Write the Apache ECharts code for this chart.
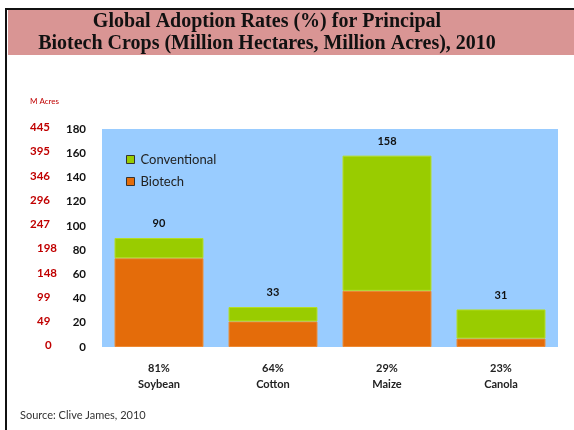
<!DOCTYPE html>
<html>
<head>
<meta charset="utf-8">
<script src="https://cdn.jsdelivr.net/npm/echarts@6/dist/echarts.min.js"></script>
<style>html,body{margin:0;padding:0;background:#fff;}#c{width:574px;height:430px;}</style>
</head>
<body>
<div id="c"></div>
<script>
var crops = ['Soybean', 'Cotton', 'Maize', 'Canola'];
var adoption = ['81%', '64%', '29%', '23%'];
var totals = [90, 33, 158, 31];
var biotech = [73.3, 21.1, 46.4, 7.0];
var conventional = [16.7, 11.9, 111.6, 24.0];
var hectareTicks = [0, 20, 40, 60, 80, 100, 120, 140, 160, 180];
var acreTicks = ['0', '49', '99', '148', '198', '247', '296', '346', '395', '445'];

var chart = echarts.init(document.getElementById('c'));
var catLabels = crops.map(function (c, i) { return adoption[i] + '\n' + c; });

chart.setOption({
  animation: false,
  backgroundColor: '#ffffff',
  textStyle: { fontFamily: 'Lato, "Open Sans", sans-serif' },
  graphic: [
    { type: 'rect', shape: { x: 8, y: 10, width: 566, height: 45 }, style: { fill: '#D99594' }, z: 0 },
    { type: 'rect', shape: { x: 5, y: 8, width: 569, height: 2 }, style: { fill: '#111' }, z: 1 },
    { type: 'rect', shape: { x: 5, y: 8, width: 2, height: 422 }, style: { fill: '#111' }, z: 1 },
    { type: 'text', x: 267, y: 11, z: 2, style: {
        text: 'Global Adoption Rates (%) for Principal\nBiotech Crops (Million Hectares, Million Acres), 2010',
        fill: '#111', font: 'bold 20px "Liberation Serif", "Times New Roman", serif',
        align: 'center', lineHeight: 22 } },
    { type: 'text', x: 30, y: 97, style: { text: 'M Acres', fill: '#C00000',
        font: '8px Lato, sans-serif' } },
    { type: 'text', x: 20, y: 410, style: { text: 'Source: Clive James, 2010', fill: '#333',
        font: '11px Lato, "Open Sans", sans-serif' } }
  ],
  grid: { left: 102, top: 129, right: 16, bottom: 83, show: true, backgroundColor: '#99CCFF', borderWidth: 0 },
  legend: {
    orient: 'vertical', left: 121, top: 148, itemWidth: 8, itemHeight: 8, itemGap: 9,
    icon: 'rect',
    itemStyle: { borderColor: '#333', borderWidth: 1 },
    data: ['Conventional', 'Biotech'],
    textStyle: { fontSize: 13, color: '#222', fontFamily: 'Lato, sans-serif', padding: [0, 0, 0, 1] }
  },
  xAxis: {
    type: 'category', data: catLabels,
    axisLine: { show: false }, axisTick: { show: false },
    axisLabel: { fontSize: 11, fontWeight: 'bold', color: '#222', margin: 13, lineHeight: 16, interval: 0 }
  },
  yAxis: [
    { type: 'value', min: 0, max: 180, interval: 20,
      splitLine: { show: false }, axisLine: { show: false }, axisTick: { show: false },
      axisLabel: { fontSize: 11.5, fontWeight: 'bold', color: '#111', margin: 16,
        formatter: function (v) { return hectareTicks.indexOf(v) >= 0 ? String(v) : ''; } } },
    { type: 'value', min: 0, max: 180, interval: 20, position: 'left', offset: 0,
      splitLine: { show: false }, axisLine: { show: false }, axisTick: { show: false },
      axisLabel: { align: 'left', margin: 72, fontSize: 11, fontWeight: 'bold', color: '#C00000',
        formatter: function (v) {
          var i = hectareTicks.indexOf(v);
          if (i < 0) return '';
          if (i === 0) return '{c|' + acreTicks[i] + '}';
          if (i < 5) return '{b|' + acreTicks[i] + '}';
          return '{a|' + acreTicks[i] + '}';
        },
        rich: {
          a: { fontSize: 11.5, fontWeight: 'bold', color: '#C00000', padding: [0, 0, 3, 0] },
          b: { fontSize: 11.5, fontWeight: 'bold', color: '#C00000', padding: [0, 0, 3, 7] },
          c: { fontSize: 11.5, fontWeight: 'bold', color: '#C00000', padding: [0, 0, 3, 15] }
        } } }
  ],
  series: [
    { name: 'Biotech', type: 'bar', stack: 't', barWidth: '78%', data: biotech,
      itemStyle: { color: '#E46C0A', borderColor: '#EE8A33', borderWidth: 1, borderType: 'solid' } },
    { name: 'Conventional', type: 'bar', stack: 't', data: conventional,
      itemStyle: { color: '#99CC00', borderColor: '#B5DD22', borderWidth: 1 },
      label: { show: true, position: 'top', distance: 9, fontSize: 11, fontWeight: 'bold', color: '#111',
        formatter: function (p) { return String(totals[p.dataIndex]); } } }
  ]
});
</script>
</body>
</html>
